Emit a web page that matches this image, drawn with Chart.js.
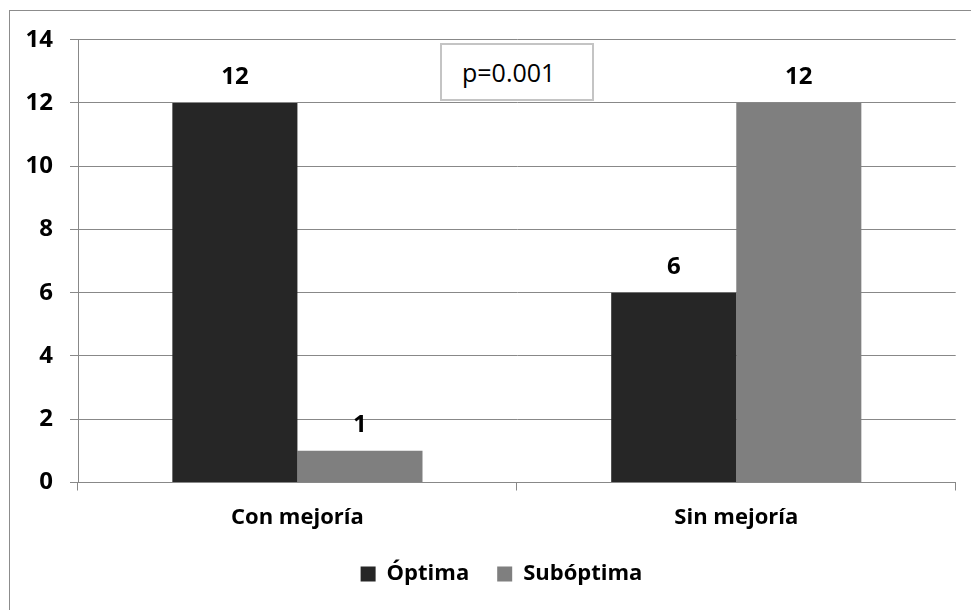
<!DOCTYPE html>
<html>
<head>
<meta charset="utf-8">
<script src="https://cdn.jsdelivr.net/npm/chart.js@4/dist/chart.umd.min.js"></script>
<style>
  html, body { margin: 0; padding: 0; background: #fff; overflow: hidden; }
  #wrap { position: relative; width: 971px; height: 610px; }
  #frame { position: absolute; left: 9px; top: 10px; width: 1000px; height: 700px; border: 1px solid #8c8c8c; box-sizing: border-box; }
  canvas { position: absolute; left: 0; top: 0; }
  #pbox { position: absolute; left: 440px; top: 43px; width: 154px; height: 58px; box-sizing: border-box;
          border: 2px solid #c4c4c4; background: #fff; font-family: 'Open Sans', sans-serif; font-size: 25px;
          color: #000; padding-left: 20px; line-height: 54px; }
</style>
</head>
<body>
<div id="wrap">
  <div id="frame"></div>
  <canvas id="c" width="971" height="610"></canvas>
  <div id="pbox">p=0.001</div>
</div>
<script>
const categories = ["Con mejoría", "Sin mejoría"];
const seriesNames = ["Óptima", "Subóptima"];
const optimaValues = [12, 6];
const suboptimaValues = [1, 12];
const yTicks = [0, 2, 4, 6, 8, 10, 12, 14];

const FONT = "'Open Sans', sans-serif";
const GRID = '#888888';

const valueLabels = {
  id: 'valueLabels',
  beforeDraw(chart) {
    // let the y tick labels extend left of the (narrow) axis box
    chart.scales.y._computeLabelArea = function () { return undefined; };
  },
  afterDatasetsDraw(chart) {
    const ctx = chart.ctx;
    ctx.save();
    ctx.font = "bold 24px " + FONT;
    ctx.fillStyle = '#000';
    ctx.textAlign = 'center';
    ctx.textBaseline = 'middle';
    chart.data.datasets.forEach((ds, di) => {
      chart.getDatasetMeta(di).data.forEach((bar, i) => {
        ctx.fillText(String(ds.data[i]), bar.x, bar.y - 26);
      });
    });
    ctx.restore();
  }
};

new Chart(document.getElementById('c'), {
  type: 'bar',
  data: {
    labels: categories,
    datasets: [
      { label: seriesNames[0], data: optimaValues, backgroundColor: '#262626' },
      { label: seriesNames[1], data: suboptimaValues, backgroundColor: '#7f7f7f' }
    ]
  },
  options: {
    responsive: false,
    animation: false,
    layout: { padding: { left: 47.3, right: 15.3, top: 39.7, bottom: 15 } },
    datasets: { bar: { categoryPercentage: 0.57, barPercentage: 1.0 } },
    scales: {
      x: {
        grid: { offset: true, drawOnChartArea: false, drawTicks: true, tickLength: 8, color: GRID, lineWidth: 1 },
        border: { display: true, color: GRID, width: 1 },
        ticks: { color: '#000', font: { family: FONT, size: 22, weight: 'bold' }, padding: 14 },
        afterFit(scale) { scale.height = 52.5; }
      },
      y: {
        min: 0, max: 14,
        afterBuildTicks(scale) { scale.ticks = yTicks.map(v => ({ value: v })); },
        grid: { drawOnChartArea: true, drawTicks: true, tickLength: 8, color: GRID, lineWidth: 1 },
        border: { display: true, color: GRID, width: 1 },
        ticks: { color: '#000', font: { family: FONT, size: 24, weight: 'bold' }, padding: 17 },
        afterFit(scale) { scale.width = 30.7; }
      }
    },
    plugins: {
      legend: {
        position: 'bottom',
        labels: {
          boxWidth: 15, boxHeight: 15, padding: 28, color: '#000',
          font: { family: FONT, size: 22, weight: 'bold' }
        }
      },
      tooltip: { enabled: false }
    }
  },
  plugins: [valueLabels]
});
</script>
</body>
</html>
